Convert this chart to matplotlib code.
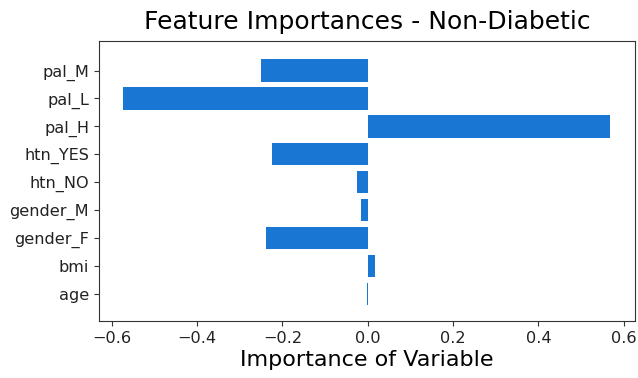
import matplotlib
matplotlib.use("Agg")
import matplotlib.pyplot as plt

features = ["age", "bmi", "gender_F", "gender_M", "htn_NO", "htn_YES", "pal_H", "pal_L", "pal_M"]
importances = [-0.002, 0.016, -0.239, -0.015, -0.026, -0.225, 0.569, -0.573, -0.250]

fig = plt.figure(figsize=(6.38, 3.78), dpi=100)
ax = fig.add_axes([0.155, 0.151, 0.84, 0.740])

ax.barh(features, importances, color="#1976d2", height=0.8, linewidth=0)

ax.set_ylim(-0.97, 9.05)
ax.set_xticks([-0.6, -0.4, -0.2, 0.0, 0.2, 0.4, 0.6])
ax.set_title("Feature Importances - Non-Diabetic", fontsize=18, pad=9)
ax.set_xlabel("Importance of Variable", fontsize=16, labelpad=3)
ax.tick_params(axis="both", labelsize=11.6, color="#333333", labelcolor="#222222")
for s in ax.spines.values():
    s.set_color("#333333")

fig.savefig("out.png", dpi=100)
